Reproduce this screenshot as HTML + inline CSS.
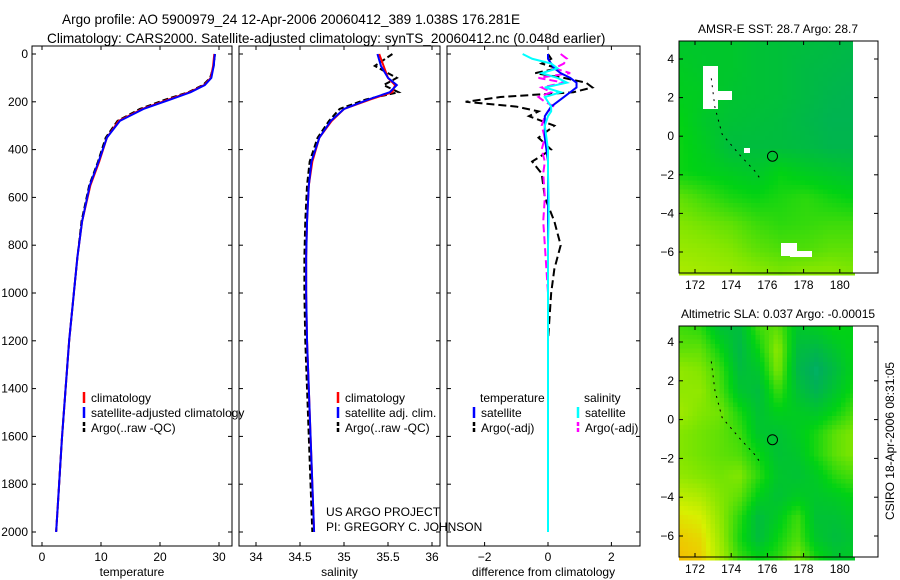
<!DOCTYPE html>
<html><head><meta charset="utf-8"><style>
html,body{margin:0;padding:0;background:#fff}
svg{display:block;font-family:"Liberation Sans",sans-serif}
text{font-size:12px;fill:#000}
.tt{font-size:13.6px}
</style></head><body>
<svg id="fig" width="900" height="580" viewBox="0 0 900 580">
<text class="tt" x="62" y="24">Argo profile: AO 5900979_24 12-Apr-2006 20060412_389 1.038S 176.281E</text>
<text class="tt" x="47" y="43">Climatology: CARS2000. Satellite-adjusted climatology: synTS_20060412.nc (0.048d earlier)</text>
<g id="g"></g>
<text x="326" y="516">US ARGO PROJECT</text>
<text x="326" y="531">PI: GREGORY C. JOHNSON</text>
<text transform="translate(894,441) rotate(-90)" text-anchor="middle">CSIRO 18-Apr-2006 08:31:05</text>
</svg>
<script>
// ---- data ----
const depthTicks=[0,200,400,600,800,1000,1200,1400,1600,1800,2000];
const tempTicks=[0,10,20,30];
const salTicks=[34,34.5,35,35.5,36];
const diffTicks=[-2,0,2];
const profDepth=[0,50,100,130,160,190,230,280,350,450,550,700,850,1000,1200,1400,1600,1800,2000];
const tempClim=[29.2,29.0,28.6,27.5,25,21.5,17,13,11,9.7,8.2,6.8,6,5.4,4.6,4.0,3.4,2.9,2.4];
const tempSat=[29.3,29.1,28.7,27.6,25.2,21.8,17.2,13.2,11,9.6,8.1,6.8,6,5.4,4.6,4.0,3.4,2.9,2.4];
const tempArgo=[29.3,29.1,28.5,27.3,24.8,21,16.6,12.8,10.8,9.5,8.0,6.7,6,5.4,4.6,4.0,3.4,2.9,2.4];
const salClim=[35.4,35.45,35.5,35.58,35.55,35.3,35.0,34.86,34.72,34.64,34.6,34.58,34.57,34.57,34.58,34.6,34.62,34.64,34.66];
const salSat=[35.38,35.42,35.5,35.6,35.52,35.28,35.0,34.85,34.72,34.63,34.6,34.58,34.57,34.57,34.58,34.6,34.62,34.64,34.66];
const salArgo=[35.55,35.35,35.6,35.45,35.62,35.25,34.95,34.83,34.7,34.61,34.58,34.56,34.55,34.55,34.56,34.58,34.6,34.62,34.64];
const diffDepth=[0,20,40,60,80,100,120,140,160,180,200,220,240,260,300,350,400,450,500,600,700,800,900,1000,1200,1500,2000];
const dTempSat=[0,0,0.1,0.2,0.4,0.7,0.9,0.9,0.7,0.5,0.3,0.1,0,-0.1,-0.1,-0.1,-0.05,0,0,0,0,0,0,0,0,0,0];
const dTempArgo=[0,0.1,-0.2,0.3,-0.4,0.5,1.2,1.4,0.8,-1.5,-2.6,-1.0,-0.3,-0.6,0.2,-0.3,0.1,-0.5,-0.2,-0.1,0.2,0.4,0.2,0.1,0,0,0];
const dSalSat=[-0.8,-0.5,0.1,0.3,-0.2,0.3,0.6,-0.1,0.4,-0.1,0,0.1,0.1,0,-0.1,-0.05,0,0,0,0.02,0.02,0,0,0,0,0,0];
const dSalArgo=[0.4,0.6,0.5,0.2,0.7,-0.3,0.5,-0.2,0.1,-0.3,-0.1,0.2,0,-0.1,-0.2,-0.1,-0.2,-0.1,-0.15,-0.1,-0.15,-0.1,-0.05,0,0,0,0];
const lonTicks=[172,174,176,178,180];
const latTicks=[4,2,0,-2,-4,-6];
const sstGrid=[
[.50,.50,.50,.48,.47,.46,.45,.44],
[.52,.50,.50,.48,.47,.45,.44,.43],
[.53,.52,.49,.48,.47,.45,.43,.42],
[.55,.50,.48,.47,.46,.44,.42,.42],
[.56,.52,.46,.46,.46,.45,.43,.43],
[.56,.54,.52,.50,.55,.52,.50,.48],
[.66,.62,.58,.56,.58,.60,.57,.55],
[.70,.68,.66,.62,.60,.61,.62,.62],
[.73,.72,.70,.66,.64,.64,.66,.66],
[.76,.75,.74,.72,.70,.72,.72,.70]];
const slaGrid=[
[.62,.60,.48,.46,.62,.66,.50,.52,.56,.54],
[.66,.66,.56,.44,.56,.72,.46,.44,.50,.56],
[.72,.70,.62,.46,.50,.70,.44,.38,.46,.56],
[.72,.72,.64,.50,.46,.62,.48,.42,.50,.58],
[.74,.70,.68,.58,.48,.54,.52,.50,.56,.64],
[.70,.68,.66,.62,.50,.48,.52,.58,.66,.70],
[.70,.68,.66,.64,.56,.48,.50,.58,.66,.70],
[.72,.70,.68,.70,.60,.50,.48,.52,.60,.64],
[.78,.76,.70,.66,.54,.48,.52,.50,.52,.56],
[.84,.82,.72,.60,.46,.52,.62,.48,.48,.52],
[.88,.86,.74,.58,.46,.56,.64,.50,.46,.50],
[.90,.88,.76,.62,.56,.60,.70,.58,.50,.52]];
// ---- helpers ----
const NS="http://www.w3.org/2000/svg",G=document.getElementById('g');
function mk(t,a,p){const e=document.createElementNS(NS,t);for(const k in a)e.setAttribute(k,a[k]);(p||G).appendChild(e);return e;}
function txt(x,y,s,anchor){const e=mk('text',{x:x,y:y,'text-anchor':anchor||'start'});e.textContent=s;return e;}
const y0=54,ys=(532-54)/2000;
const dy=d=>y0+d*ys;
function panel(name,x1,x2,xticks,fx,label){
  const r=mk('rect',{x:x1,y:46,width:x2-x1,height:500,fill:'none',stroke:'#000'});
  
  
  depthTicks.forEach(d=>{const y=dy(d);mk('line',{x1:x1,x2:x1+4,y1:y,y2:y,stroke:'#000'});mk('line',{x1:x2-4,x2:x2,y1:y,y2:y,stroke:'#000'});});
  xticks.forEach(v=>{const x=fx(v);mk('line',{x1:x,x2:x,y1:46,y2:50,stroke:'#000'});mk('line',{x1:x,x2:x,y1:542,y2:546,stroke:'#000'});
    const t=txt(x,561,String(v).replace('-','\u2212'),'middle');
    
    });
  const l=txt((x1+x2)/2,576,label,'middle');
  
  
}
function line(name,xs,ds,fx,col,dash,w){
  const p=mk('polyline',{points:xs.map((v,i)=>fx(v)+','+dy(ds[i])).join(' '),fill:'none',stroke:col,'stroke-width':w||2,'stroke-dasharray':dash||'none'});
  
  
}
function legend(name,x,y,items){items.forEach((it,i)=>{const yy=y+i*15;
  const l=mk('line',{x1:x,x2:x,y1:yy-10,y2:yy+1,stroke:it[1],'stroke-width':2.5,'stroke-dasharray':it[2]||'none'});
  
  
  const t=txt(x+7,yy,it[0]);
  
  });}
// depth labels
depthTicks.forEach(d=>{const t=txt(28,dy(d)+4,String(d),'end');
  
  });
// temperature
const fT=v=>42+v*5.9;
panel('temperature-panel',32,232,tempTicks,fT,'temperature');
line('temp-argo',tempArgo,profDepth,fT,'#000','6,3');
line('temp-climatology',tempClim,profDepth,fT,'#f00');
line('temp-satellite',tempSat,profDepth,fT,'#00f');
legend('temp-legend',84,402,[['climatology','#f00'],['satellite-adjusted climatology','#00f'],['Argo(..raw -QC)','#000','4,2']]);
// salinity
const fS=v=>256+(v-34)*88;
panel('salinity-panel',239,440,salTicks,fS,'salinity');
line('sal-argo',salArgo,profDepth,fS,'#000','6,3');
line('sal-climatology',salClim,profDepth,fS,'#f00');
line('sal-satellite',salSat,profDepth,fS,'#00f');
legend('sal-legend',338,402,[['climatology','#f00'],['satellite adj. clim.','#00f'],['Argo(..raw -QC)','#000','4,2']]);
// difference
const fD=v=>548+v*31.7;
panel('difference-panel',447,640,diffTicks,fD,'difference from climatology');
line('diff-temp-argo',dTempArgo,diffDepth,fD,'#000','8,4');
line('diff-sal-argo',dSalArgo,diffDepth,fD,'#f0f','8,4');
line('diff-temp-satellite',dTempSat,diffDepth,fD,'#00f');
line('diff-sal-satellite',dSalSat,diffDepth,fD,'#0ff');
txt(480,402,'temperature');txt(584,402,'salinity');
legend('diff-temp-legend',474,417,[['satellite','#00f'],['Argo(-adj)','#000','4,2']]);
legend('diff-sal-legend',578,417,[['satellite','#0ff'],['Argo(-adj)','#f0f','4,2']]);
// colormap
const stops=[[0,[0,90,230]],[.2,[0,200,210]],[.4,[0,175,90]],[.55,[0,210,20]],[.7,[130,230,0]],[.82,[215,240,0]],[.92,[250,180,0]],[1,[220,80,0]]];
function cmap(v){for(let i=1;i<stops.length;i++){if(v<=stops[i][0]){const a=stops[i-1],b=stops[i],t=(v-a[0])/(b[0]-a[0]);return 'rgb('+a[1].map((c,k)=>Math.round(c+(b[1][k]-c)*t)).join(',')+')';}}return 'rgb(220,80,0)';}
function sample(grid,fr,fc){const R=grid.length-1,C=grid[0].length-1;const r=Math.min(fr*R,R-1e-6),c=Math.min(fc*C,C-1e-6);const r0=Math.floor(r),c0=Math.floor(c),tr=r-r0,tc=c-c0;
  return grid[r0][c0]*(1-tr)*(1-tc)+grid[r0][c0+1]*(1-tr)*tc+grid[r0+1][c0]*tr*(1-tc)+grid[r0+1][c0+1]*tr*tc;}
function map(name,top,bot,lat4y,latm6y,grid,title,islands){
  const fx=l=>695+(l-172)*18.1, fy=la=>lat4y+(4-la)*(latm6y-lat4y)/10;
  const t=txt(778,top-8,title,'middle');
  
  
  const g=mk('g',{});
  
  
  const xa=679,xb=853,step=4.5;
  for(let y=top;y<bot;y+=step)for(let x=xa;x<xb;x+=step){
    const v=sample(grid,(y-top)/(bot-top),(x-xa)/(xb-xa));
    mk('rect',{x:x,y:y,width:step+0.5,height:step+0.5,fill:cmap(v)},g);}
  if(islands)islands.forEach(b=>mk('rect',{x:b[0],y:b[1],width:b[2],height:b[3],fill:'#fff'},g));
  mk('rect',{x:xb,y:top,width:878-xb,height:bot-top,fill:'#fff'});
  mk('rect',{x:xa,y:top,width:878-xa,height:bot-top,fill:'none',stroke:'#000'});
  lonTicks.forEach(l=>{const x=fx(l);mk('line',{x1:x,x2:x,y1:top,y2:top+4,stroke:'#000'});mk('line',{x1:x,x2:x,y1:bot-4,y2:bot,stroke:'#000'});
    const tt=txt(x,bot+16,String(l),'middle');
    
    });
  latTicks.forEach(la=>{const y=fy(la);mk('line',{x1:xa,x2:xa+4,y1:y,y2:y,stroke:'#000'});mk('line',{x1:874,x2:878,y1:y,y2:y,stroke:'#000'});
    const tt=txt(674,y+4,String(la).replace('-','\u2212'),'end');
    
    });
  const c=mk('circle',{cx:fx(176.281),cy:fy(-1.038),r:5,fill:'none',stroke:'#000'});
  
  
  mk('polyline',{points:[[172.9,3],[173.1,1.5],[173.5,0.1],[174.5,-1],[175.3,-1.8],[175.6,-2.2]].map(p=>fx(p[0])+','+fy(p[1])).join(' '),fill:'none',stroke:'#000','stroke-dasharray':'2,5'});
}
map('sst-map',41,273,59,252,sstGrid,'AMSR-E SST: 28.7 Argo: 28.7',[[703,66,15,43],[703,91,29,9],[781,243,16,13],[790,251,22,6],[744,148,6,5]]);
map('sla-map',326,557,342,536,slaGrid,'Altimetric SLA: 0.037 Argo: -0.00015',null);
</script>
</body></html>
